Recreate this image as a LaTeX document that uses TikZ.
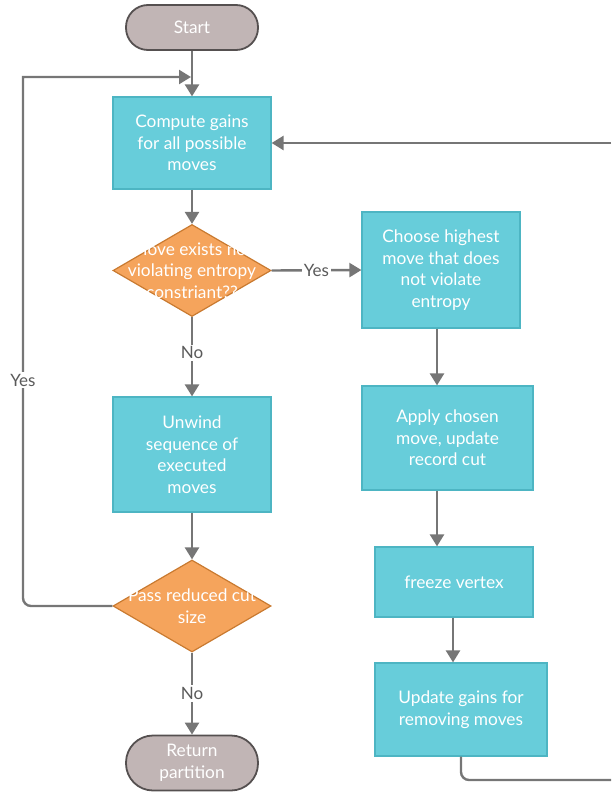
\documentclass[tikz,border=0pt]{standalone}
\usepackage{fontspec}
\setmainfont{Lato}
\usetikzlibrary{arrows.meta,shapes.geometric,positioning}
\definecolor{boxfill}{HTML}{67CDDA}
\definecolor{boxline}{HTML}{4DB5C3}
\definecolor{decfill}{HTML}{F5A45C}
\definecolor{decline}{HTML}{C97A30}
\definecolor{termfill}{HTML}{C1B5B5}
\definecolor{termline}{HTML}{555050}
\definecolor{wire}{HTML}{767676}
\definecolor{labelgrey}{HTML}{5A5A5A}
\tikzset{
  txt/.style={font=\fontsize{17.3}{21.5}\selectfont, text=white, align=center},
  procbox/.style={txt, draw=boxline, line width=1.2pt, fill=boxfill, minimum width=#1},
  termbox/.style={txt, draw=termline, line width=1.8pt, fill=termfill, rounded corners=22pt, minimum width=132pt},
  decision/.style={draw=decline, line width=1.2pt, fill=decfill, diamond, aspect=1.72, inner sep=0pt, minimum width=158pt, minimum height=92pt},
  dectext/.style={txt, inner sep=0pt},
  conn/.style={draw=wire, line width=2.4pt, -{Triangle[width=14pt,length=12pt]}},
  plain/.style={draw=wire, line width=2.4pt},
  edgelabel/.style={font=\fontsize{17}{18}\selectfont, text=labelgrey, fill=white, inner sep=2pt}
}
\begin{document}
\begin{tikzpicture}[x=1pt,y=-1pt]
\useasboundingbox (0,0) rectangle (611,805);

% terminals
\node[termbox, minimum height=45pt] (start) at (192,27.5) {Start};
\node[termbox, minimum height=55pt, rounded corners=27pt] (ret) at (192,763) {Return\\partition};

% left column
\node[procbox=158pt, minimum height=92pt] (gains) at (192,143) {Compute gains\\for all possible\\moves};
\node[decision] (d1) at (192,270.5) {};
\node[dectext] (d1text) at (d1.center) {Move exists not\\violating entropy\\constriant??};
\node[procbox=158pt, minimum height=115pt] (unwind) at (192,454.5) {Unwind\\sequence of\\executed\\moves};
\node[decision] (d2) at (192,606) {};
\node[dectext] (d2text) at (d2.center) {Pass reduced cut\\size};

% right column
\node[procbox=158pt, minimum height=116pt] (choose) at (441,270) {Choose highest\\move that does\\not violate\\entropy};
\node[procbox=171pt, minimum height=104pt] (apply) at (447.5,438) {Apply chosen\\move, update\\record cut};
\node[procbox=158pt, minimum height=70pt] (freeze) at (454,582) {freeze vertex};
\node[procbox=172pt, minimum height=93pt] (update) at (461,709.5) {Update gains for\\removing moves};

% free ends of the loops
\coordinate (loopTop) at (23,77);
\coordinate (loopIn) at (191,77);
\coordinate (rightIn) at (611,143);
\coordinate (rightOut) at (611,780);

% main flow
\draw[conn] (start) -- (gains);
\draw[conn] (gains) -- (d1);
\draw[conn] (d1) -- (unwind) node[edgelabel, pos=0.45] {No};
\draw[conn] (unwind) -- (d2);
\draw[conn] (d2) -- (ret) node[edgelabel, pos=0.5] {No};
\draw[conn] (d1.east) -- (choose.west) node[edgelabel, pos=0.5] {Yes};
\draw[conn] (choose.south -| 437,0) -- (apply.north -| 437,0);
\draw[conn] (apply.south -| 437,0) -- (freeze.north -| 437,0);
\draw[conn] (freeze.south -| 453,0) -- (update.north -| 453,0);

% outer loops
\draw[conn, rounded corners=8pt] (d2.west) -- (loopTop |- d2.west) [sharp corners] -- (loopTop) -- (loopIn);
\node[edgelabel] (yesleft) at (23,380) {Yes};
\draw[conn] (rightIn) -- (gains.east);
\draw[plain, rounded corners=8pt] (update.south) -- (update.south |- rightOut) -- (rightOut);
\end{tikzpicture}
\end{document}
